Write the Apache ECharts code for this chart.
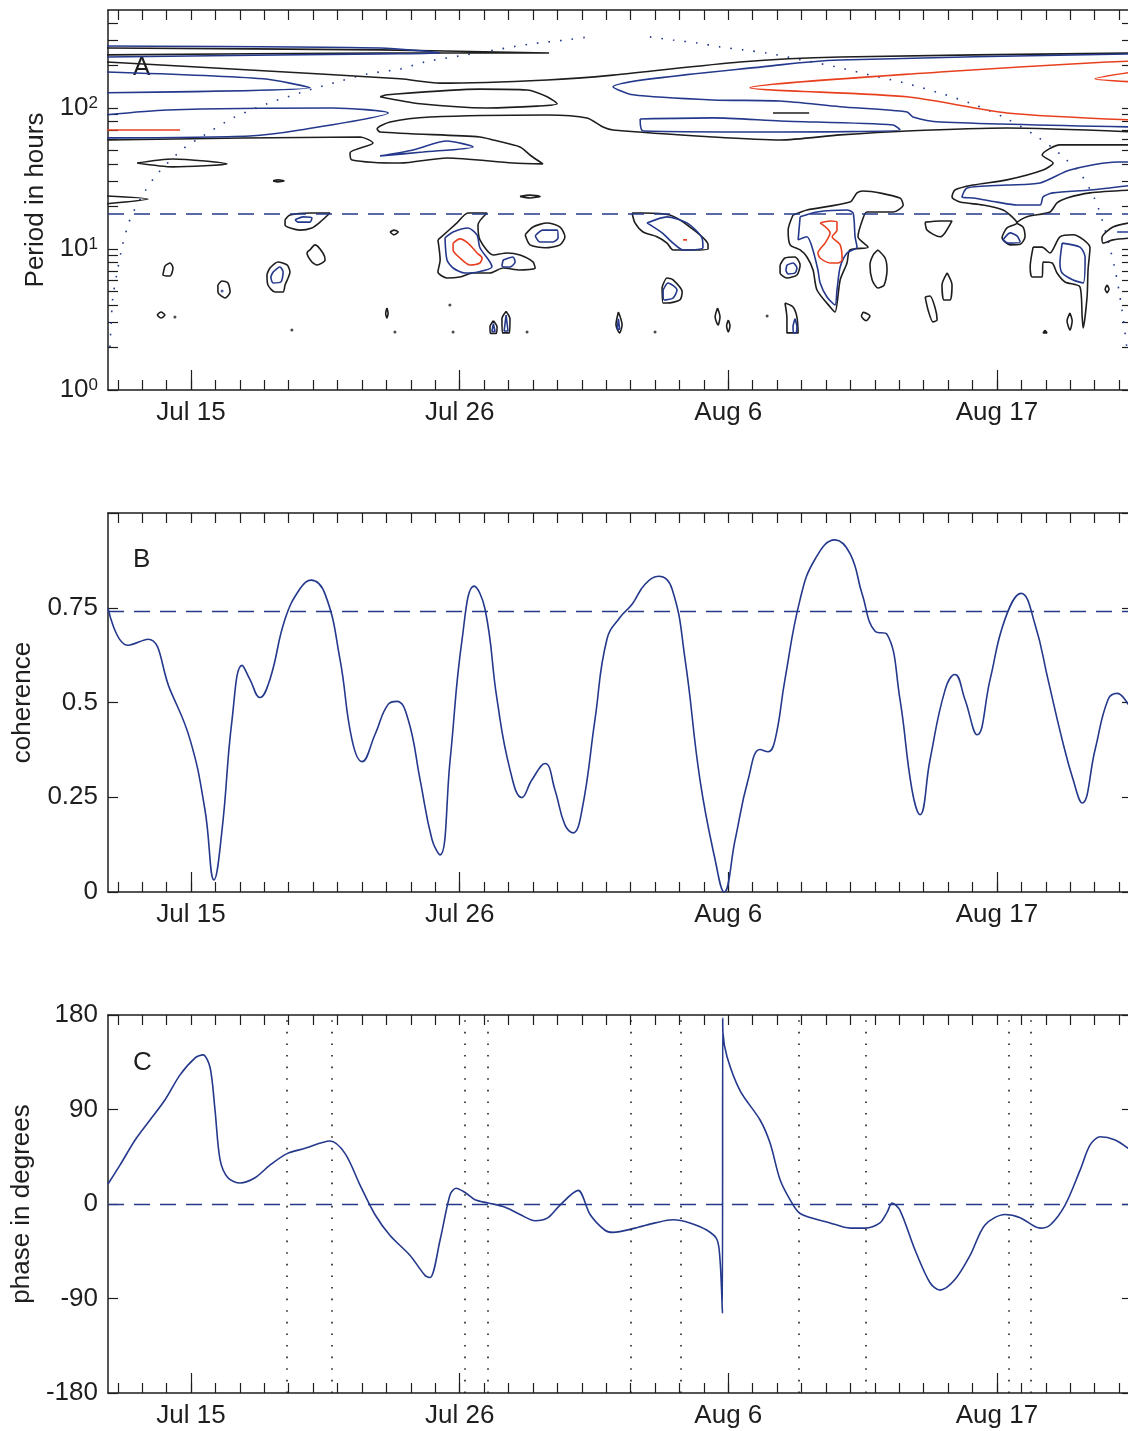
<!DOCTYPE html>
<html>
<head>
<meta charset="utf-8">
<script src="https://cdn.jsdelivr.net/npm/echarts@6/dist/echarts.min.js"></script>
<style>
html, body { margin: 0; padding: 0; background: #fff; }
#chart { width: 1128px; height: 1431px; }
</style>
</head>
<body>
<div id="chart"></div>
<script>
// days are counted from Jul 0 (Jul 15 = 15, Aug 6 = 37, Aug 17 = 48)
var dayMin = 11.6, dayMax = 53.53;
var dayTicks = [12,13,14,15,16,17,18,19,20,21,22,23,24,25,26,27,28,29,30,31,32,33,34,35,36,37,38,39,40,41,42,43,44,45,46,47,48,49,50,51,52,53];
var majorDays = [15, 26, 37, 48];
var majorLabels = ['Jul 15', 'Jul 26', 'Aug 6', 'Aug 17'];

var periodTicks = [1,2,3,4,5,6,7,8,9,10,20,30,40,50,60,70,80,90,100,200,300,400];
var periodLabels = [1, 10, 100];
var coherenceTicks = [0, 0.25, 0.5, 0.75, 1];
var coherenceLabels = [0, 0.25, 0.5, 0.75];
var phaseTicks = [-180, -90, 0, 90, 180];

var significancePeriod = 17.7;
var coherenceLevel = 0.74;
var phaseMarks = [18.93, 20.77, 26.21, 27.15, 33.0, 35.04, 39.87, 42.61, 48.5, 49.4];

// cone of influence [day, period in hours]
var coiLeft = [[11.68,2.02],[11.72,2.80],[11.80,4.57],[11.97,6.76],[12.17,10.2],[12.42,14.8],[12.62,18.0],[13.07,25.0],[13.65,34.6],[14.67,51.2],[15.49,63.3],[16.72,85.0],[18.11,107],[19.46,128],[20.81,150],[22.21,174],[23.56,189],[24.58,212],[26.01,234],[27.45,258],[28.88,284],[30.31,303],[31.26,319]];
var coiRight = [[33.79,319],[34.74,303],[35.72,289],[36.66,271],[37.60,258],[38.59,245],[40.02,219],[41.45,195],[42.80,171],[44.24,150],[45.63,128],[46.98,107],[48.33,85.0],[49.60,63.3],[50.38,50.4],[50.71,44.9],[51.40,34.6],[52.02,22.3],[52.43,13.6],[52.84,7.10],[53.12,3.69],[53.33,1.92]];

// coherence contours [day, period in hours]
var blackContours = [
    [[11.5,266],[22.74,258],[29.66,245],[22.74,245],[11.5,238]],
    [[11.5,212],[17.41,186],[23.56,161],[25.2,150],[29.58,158],[32.28,171],[37.48,212],[41.58,230],[53.6,245]],
    [[11.5,59.3],[21.92,62.3],[22.45,56.5],[21.51,48.0],[21.59,42.8],[23.56,40.7],[25.48,44.2],[28.18,40.7],[29.41,40.1],[28.88,46.4],[28.47,52.9],[27.37,59.3],[26.83,62.3],[22.74,67.6],[22.62,71.0],[23.15,79.6],[24.79,86.3],[29.58,89.2],[31.21,85.0],[31.87,73.3],[32.28,69.8],[36.37,62.3],[39.12,59.3],[41.58,64.4],[44.32,68.7],[48.41,72.1],[53.6,67.6]],
    [[22.74,120],[24.38,107],[27.12,100],[29.17,103],[29.99,107],[29.58,120],[28.76,134],[26.83,136],[23.03,124],[22.74,120]],
    [[12.79,40.7],[14.26,43.5],[16.47,40.1],[14.26,38.2],[12.79,40.7]],
    [[18.36,30.4],[18.56,30.9],[18.81,30.4],[18.56,29.9],[18.36,30.4]],
    [[11.5,23.8],[13.24,22.6],[11.5,20.9]],
    [[38.83,92.2],[40.31,92.2]],
    [[53.6,54.7],[50.58,54.7],[49.85,46.4],[50.30,40.7],[49.89,36.3],[48.41,30.9],[47.02,28.4],[46.28,26.2],[46.16,23.4],[46.49,21.5],[47.43,20.5],[48.25,18.9],[48.62,16.9],[48.82,15.3],[48.41,14.1],[48.21,12.0],[48.54,10.7],[48.95,10.8],[49.15,12.2],[49.07,14.3],[48.82,15.3],[49.23,16.9],[50.17,18.3],[50.46,21.2],[50.87,23.0],[51.81,25.0],[53.6,26.2]],
    [[53.6,15.5],[52.75,14.3],[52.30,12.0],[52.35,11.0],[52.75,11.6],[53.6,12.0]],
    [[39.65,17.4],[40.22,18.9],[41.98,21.5],[42.27,25.0],[42.52,25.8],[44.03,23.0],[44.16,20.5],[43.75,18.3],[42.68,18.3],[42.52,16.6],[42.31,12.2],[42.72,10.3],[41.98,9.84],[41.86,7.96],[41.58,6.03],[41.37,3.57],[41.17,3.88],[40.63,5.12],[40.47,7.10],[40.22,8.78],[39.94,9.84],[39.53,10.7],[39.45,13.6],[39.65,17.4]],
    [[39.12,7.70],[39.32,8.63],[39.73,8.78],[39.94,7.70],[39.81,6.54],[39.40,6.23],[39.12,6.76],[39.12,7.70]],
    [[39.32,4.14],[39.65,3.88],[39.81,3.29],[39.86,2.54],[39.40,2.54],[39.40,3.24],[39.32,4.14]],
    [[43.13,9.84],[43.42,8.63],[43.50,7.10],[43.38,5.55],[43.13,5.29],[42.89,6.03],[42.80,7.70],[42.93,9.06],[43.13,9.84]],
    [[45.06,15.5],[45.67,15.8],[46.16,15.8],[45.87,13.0],[45.67,12.2],[45.14,13.6],[45.06,15.5]],
    [[45.96,6.76],[46.16,5.55],[46.08,4.35],[45.83,4.35],[45.75,5.55],[45.96,6.76]],
    [[45.06,4.57],[45.26,4.64],[45.47,3.81],[45.55,3.14],[45.38,3.04],[45.18,3.69],[45.06,4.57]],
    [[42.52,3.57],[42.80,3.35],[42.64,3.10],[42.45,3.35],[42.52,3.57]],
    [[49.48,10.3],[49.85,10.3],[50.17,9.37],[50.58,12.2],[51.12,12.6],[51.81,10.2],[51.73,7.10],[51.69,4.57],[51.53,2.75],[51.49,3.29],[51.40,5.38],[50.79,5.83],[50.46,6.76],[50.26,7.96],[49.89,8.09],[49.85,6.33],[49.44,6.33],[49.36,7.45],[49.48,10.3]],
    [[50.99,3.52],[51.08,3.09],[50.99,2.66],[50.87,3.09],[50.99,3.52]],
    [[49.97,2.66],[50.05,2.54],[49.89,2.54],[49.97,2.66]],
    [[52.51,5.55],[52.59,5.2],[52.51,4.9],[52.43,5.2],[52.51,5.55]],
    [[28.47,23.6],[28.88,24.1],[29.29,23.6],[28.88,23.0],[28.47,23.6]],
    [[23.15,13.2],[23.31,13.6],[23.48,13.2],[23.31,12.6],[23.15,13.2]],
    [[25.11,11.6],[25.89,15.3],[26.34,18.0],[27.12,18.0],[26.75,14.8],[26.83,11.6],[27.37,9.06],[27.94,9.37],[28.47,9.06],[29.00,8.09],[29.09,7.33],[28.47,7.10],[27.78,7.33],[27.24,6.76],[26.55,6.76],[26.01,6.33],[25.48,6.23],[25.11,6.87],[25.20,8.36],[25.11,11.6]],
    [[28.68,12.6],[29.00,14.3],[29.58,15.3],[30.11,14.3],[30.31,12.2],[30.11,10.7],[29.50,10.2],[28.88,10.7],[28.68,12.6]],
    [[33.06,18.0],[33.51,18.0],[34.61,17.4],[35.43,14.3],[36.17,10.7],[36.17,10.0],[35.56,9.84],[34.74,9.84],[34.49,11.0],[34.08,12.2],[33.51,13.2],[33.18,15.3],[33.06,18.0]],
    [[34.29,5.38],[34.49,6.23],[34.74,6.03],[35.11,4.95],[35.02,4.35],[34.49,4.14],[34.33,4.14],[34.29,5.38]],
    [[27.38,3.10],[27.53,2.80],[27.50,2.52],[27.26,2.52],[27.24,2.80],[27.38,3.10]],
    [[27.9,3.60],[28.06,3.2],[28.04,2.54],[27.75,2.54],[27.73,3.2],[27.9,3.60]],
    [[32.5,3.57],[32.65,2.9],[32.55,2.54],[32.4,2.9],[32.5,3.57]],
    [[36.56,3.81],[36.66,3.3],[36.58,2.89],[36.46,3.3],[36.56,3.81]],
    [[37.0,3.14],[37.07,2.85],[37.0,2.58],[36.93,2.85],[37.0,3.14]],
    [[23.02,3.81],[23.07,3.5],[23.02,3.24],[22.97,3.5],[23.02,3.81]],
    [[18.85,16.1],[19.05,17.4],[19.87,18.0],[20.69,18.0],[20.28,15.5],[19.95,14.1],[19.46,13.6],[18.85,14.8],[18.85,16.1]],
    [[19.87,9.84],[20.08,10.7],[20.40,9.37],[20.49,8.36],[20.16,7.70],[19.95,8.09],[19.75,9.37],[19.87,9.84]],
    [[18.23,7.33],[18.56,8.09],[18.93,7.70],[19.05,6.87],[18.85,5.55],[18.77,4.95],[18.44,4.95],[18.15,5.55],[18.11,6.54],[18.23,7.33]],
    [[16.10,5.55],[16.27,5.93],[16.51,5.74],[16.60,4.95],[16.39,4.49],[16.10,4.95],[16.10,5.55]],
    [[13.93,7.58],[14.14,7.96],[14.26,7.33],[14.14,6.44],[13.85,6.54],[13.93,7.58]],
    [[13.61,3.40],[13.77,3.57],[13.93,3.40],[13.77,3.24],[13.61,3.40]]
];
var blueContours = [
    [[11.5,275],[22.74,266],[25.2,245],[22.74,242],[11.5,230]],
    [[11.5,180],[17.95,161],[19.87,139],[11.5,128]],
    [[11.5,89.2],[14.02,96.8],[20.81,100],[23.07,92.2],[19.46,69.8],[17.41,63.3],[11.5,61.3]],
    [[22.74,45.7],[24.09,50.4],[25.48,58.3],[26.55,52.9],[24.5,48.7],[22.74,45.7]],
    [[53.6,242],[41.58,219],[39.12,202],[32.28,141],[33.10,124],[36.37,114],[39.12,112],[41.58,102],[44.32,93.7],[44.56,86.3],[45.67,79.6],[53.6,73.3]],
    [[33.39,83.6],[36.37,85.0],[39.12,80.9],[43.75,75.8],[44.03,69.8],[39.12,67.6],[33.51,68.7],[33.39,83.6]],
    [[53.6,41.4],[52.92,41.4],[50.99,36.3],[49.77,29.4],[48.41,28.4],[46.78,27.1],[46.57,23.4],[47.02,23.0],[48.00,21.5],[48.82,20.5],[49.77,20.5],[49.89,23.4],[50.30,25.0],[51.81,26.2],[53.6,28.4]],
    [[48.25,11.6],[48.54,13.0],[48.82,12.4],[48.95,11.2],[48.46,11.0],[48.25,11.6]],
    [[52.92,13.2],[53.6,13.2]],
    [[39.94,16.9],[40.63,18.3],[41.86,18.9],[42.11,18.0],[42.19,12.2],[42.27,10.3],[41.86,9.37],[41.58,7.45],[41.45,5.12],[41.37,4.01],[41.04,4.57],[40.76,5.74],[40.67,7.10],[40.43,10.3],[40.22,12.2],[39.86,11.6],[39.94,16.9]],
    [[39.40,7.70],[39.65,7.96],[39.81,7.33],[39.73,6.76],[39.45,6.65],[39.36,7.10],[39.40,7.70]],
    [[39.73,3.2],[39.81,2.8],[39.77,2.54],[39.67,2.54],[39.65,2.8],[39.73,3.2]],
    [[50.67,11.0],[51.40,10.3],[51.61,8.78],[51.53,5.74],[51.12,6.03],[50.67,6.76],[50.58,7.96],[50.67,11.0]],
    [[25.40,12.0],[25.73,13.2],[26.34,14.1],[26.71,12.6],[26.83,10.2],[27.24,8.09],[27.32,7.45],[26.75,6.87],[26.22,6.76],[25.73,7.33],[25.48,8.36],[25.40,12.0]],
    [[27.78,8.36],[28.18,8.78],[28.27,8.09],[28.06,7.45],[27.73,7.58],[27.78,8.36]],
    [[29.09,12.4],[29.41,13.6],[29.99,13.6],[30.03,12.0],[29.82,11.2],[29.29,11.2],[29.09,12.4]],
    [[33.67,15.3],[34.49,16.9],[35.31,15.3],[35.92,12.0],[35.96,10.2],[35.15,9.84],[34.74,11.0],[34.29,13.0],[33.67,15.3]],
    [[34.33,5.12],[34.53,5.74],[34.90,5.12],[34.74,4.49],[34.37,4.35],[34.33,5.12]],
    [[27.38,2.95],[27.45,2.6],[27.32,2.6],[27.38,2.95]],
    [[27.9,3.40],[27.98,2.62],[27.82,2.62],[27.9,3.40]],
    [[32.5,3.2],[32.55,2.7],[32.45,2.7],[32.5,3.2]],
    [[19.26,16.1],[19.59,16.9],[19.95,16.6],[19.87,15.5],[19.38,15.5],[19.26,16.1]],
    [[18.36,6.87],[18.64,7.45],[18.77,6.87],[18.68,5.83],[18.36,5.74],[18.27,6.33],[18.36,6.87]]
];
var redContours = [
    [[11.5,69.8],[14.55,69.8]],
    [[53.6,215],[52.51,212],[45.67,180],[37.89,139],[44.32,120],[48.41,92.2],[53.6,82.2]],
    [[53.6,180],[52.02,161],[53.6,153]],
    [[40.76,15.3],[41.17,15.8],[41.45,15.5],[41.45,13.6],[41.25,12.2],[41.58,10.7],[41.66,8.36],[41.49,7.96],[41.17,7.96],[40.76,8.63],[40.67,9.37],[40.96,11.0],[41.17,13.0],[40.76,15.3]],
    [[25.73,11.0],[26.01,11.8],[26.34,11.0],[26.71,9.37],[26.92,8.63],[26.83,7.96],[26.42,7.70],[26.01,8.63],[25.73,9.84],[25.73,11.0]],
    [[35.15,11.6],[35.31,11.6]]
];
var blackSpecks = [[25.6,4.01],[25.73,2.58],[23.35,2.58],[28.76,2.58],[34.0,2.58],[38.59,3.35],[19.13,2.66],[14.34,3.29]];
var blueSpecks = [[16.27,5.03]];

// coherence [day, value]
var coherence = [[11.60,0.749],[12.42,0.651],[13.24,0.667],[14.14,0.534],[14.96,0.402],[15.57,0.217],[15.94,0.032],[16.27,0.164],[16.68,0.455],[17.09,0.598],[17.41,0.561],[17.82,0.513],[18.23,0.561],[18.85,0.720],[19.46,0.800],[19.91,0.823],[20.49,0.786],[21.10,0.614],[21.59,0.402],[22.00,0.344],[22.53,0.415],[23.07,0.495],[23.43,0.503],[23.89,0.455],[24.38,0.296],[24.87,0.138],[25.20,0.098],[25.61,0.349],[26.10,0.667],[26.59,0.807],[27.04,0.746],[27.53,0.508],[28.06,0.323],[28.55,0.249],[28.96,0.296],[29.50,0.339],[29.90,0.270],[30.31,0.177],[30.64,0.156],[31.01,0.217],[31.54,0.455],[32.03,0.667],[32.57,0.725],[33.06,0.759],[33.59,0.812],[34.16,0.833],[34.70,0.799],[35.23,0.614],[35.84,0.296],[36.46,0.085],[36.83,0.000],[37.28,0.138],[37.81,0.296],[38.30,0.376],[38.63,0.370],[38.91,0.400],[39.32,0.561],[39.94,0.772],[40.55,0.878],[41.37,0.929],[41.99,0.892],[42.48,0.786],[43.01,0.688],[43.50,0.680],[44.03,0.508],[44.52,0.270],[44.85,0.204],[45.26,0.349],[45.88,0.534],[46.28,0.574],[46.69,0.508],[47.19,0.415],[47.72,0.561],[48.33,0.720],[48.99,0.788],[49.56,0.706],[50.09,0.561],[50.67,0.402],[51.12,0.296],[51.49,0.235],[52.02,0.376],[52.55,0.508],[52.92,0.524],[53.37,0.495]];

// phase [day, degrees]
var phase = [[11.60,19],[12.09,37],[12.71,61],[13.32,80],[13.93,99],[14.55,123],[15.16,139],[15.49,142],[15.78,130],[15.98,90],[16.19,42],[16.51,25],[17.01,20],[17.62,25],[18.23,37],[18.93,48],[19.67,53],[20.69,60],[21.31,48],[21.92,18],[22.53,-10],[23.15,-30],[23.97,-49],[24.58,-68],[24.79,-70],[25.20,-34],[25.61,9],[25.85,15],[26.22,11],[26.63,4],[27.16,1],[27.86,-3],[28.47,-10],[29.09,-16],[29.62,-13],[30.11,-1],[30.85,13],[31.34,-10],[31.95,-25],[32.28,-27],[33.18,-23],[34.00,-18],[34.74,-15],[35.43,-18],[36.13,-25],[36.54,-34],[36.66,-53],[36.72,-80],[36.76,-104],[36.77,177],[36.78,163],[36.95,140],[37.48,108],[38.30,80],[38.71,58],[39.12,23],[39.53,4],[39.94,-9],[41.17,-18],[41.99,-23],[42.60,-23],[43.21,-18],[43.50,-8],[43.71,1],[44.03,-6],[44.65,-44],[45.26,-75],[45.67,-82],[46.28,-72],[46.90,-49],[47.51,-20],[48.33,-10],[48.95,-13],[49.77,-23],[50.18,-20],[50.79,-1],[51.40,32],[51.81,56],[52.22,64],[52.84,61],[53.37,53]];

var FONT = 'Liberation Sans, Arial, Helvetica, sans-serif';
var INK = '#1e1e1e';
var BLUE = '#24388c';
var RED = '#e8401f';

var chart = echarts.init(document.getElementById('chart'), null, {renderer: 'canvas'});

var grids = [
    {left: 108, top: 10, width: 1024, height: 380, outerBoundsMode: 'none'},
    {left: 108, top: 513, width: 1024, height: 379, outerBoundsMode: 'none'},
    {left: 108, top: 1015, width: 1024, height: 378, outerBoundsMode: 'none'}
];

function xAxesFor(g) {
    return [
        {
            gridIndex: g, type: 'value', min: dayMin, max: dayMax, position: 'bottom',
            axisLine: {show: true, onZero: false, lineStyle: {color: INK, width: 1.5}},
            axisTick: {show: true, inside: true, length: 10, customValues: dayTicks, lineStyle: {color: INK, width: 1.2}},
            axisLabel: {
                show: true, customValues: majorDays, margin: 10, fontSize: 26, color: INK, fontFamily: FONT,
                formatter: function (v) { return majorLabels[majorDays.indexOf(Math.round(v))]; }
            },
            splitLine: {show: false}
        },
        {
            gridIndex: g, type: 'value', min: dayMin, max: dayMax, position: 'bottom',
            axisLine: {show: false, onZero: false},
            axisTick: {show: true, inside: true, length: 20, customValues: majorDays, lineStyle: {color: INK, width: 1.2}},
            axisLabel: {show: false},
            splitLine: {show: false}
        },
        {
            gridIndex: g, type: 'value', min: dayMin, max: dayMax, position: 'top',
            axisLine: {show: true, onZero: false, lineStyle: {color: INK, width: 1.5}},
            axisTick: {show: true, inside: true, length: 10, customValues: dayTicks, lineStyle: {color: INK, width: 1.2}},
            axisLabel: {show: false},
            splitLine: {show: false}
        }
    ];
}

function yPair(g, base, labelOpt, name, gap) {
    var left = Object.assign({}, base, {
        gridIndex: g, position: 'left',
        name: name, nameLocation: 'middle', nameGap: gap, nameRotate: 90,
        nameTextStyle: {fontSize: 26, color: INK, fontFamily: FONT},
        axisLine: {show: true, onZero: false, lineStyle: {color: INK, width: 1.5}},
        axisLabel: labelOpt,
        splitLine: {show: false}
    });
    var right = Object.assign({}, base, {
        gridIndex: g, position: 'right',
        axisLine: {show: true, onZero: false, lineStyle: {color: INK, width: 1.5}},
        axisLabel: {show: false},
        splitLine: {show: false}
    });
    return [left, right];
}

var tickStyle = {color: INK, width: 1.2};

var yAxes = []
    .concat(yPair(0, {
        type: 'log', logBase: 10, min: 1, max: 495,
        axisTick: {show: true, inside: true, length: 10, customValues: periodTicks, lineStyle: tickStyle}
    }, {
        show: true, customValues: periodLabels, margin: 10, color: INK, fontFamily: FONT,
        formatter: function (v) { return '{b|10}{s|' + Math.round(Math.log10(v)) + '}'; },
        rich: {
            b: {fontSize: 26, color: INK, fontFamily: FONT},
            s: {fontSize: 17, color: INK, fontFamily: FONT, verticalAlign: 'top'}
        }
    }, 'Period in hours', 56))
    .concat(yPair(1, {
        type: 'value', min: 0, max: 1,
        axisTick: {show: true, inside: true, length: 10, customValues: coherenceTicks, lineStyle: tickStyle}
    }, {
        show: true, customValues: coherenceLabels, margin: 10, fontSize: 26, color: INK, fontFamily: FONT,
        formatter: function (v) { return String(v); }
    }, 'coherence', 72))
    .concat(yPair(2, {
        type: 'value', min: -180, max: 180,
        axisTick: {show: true, inside: true, length: 10, customValues: phaseTicks, lineStyle: tickStyle}
    }, {
        show: true, customValues: phaseTicks, margin: 10, fontSize: 26, color: INK, fontFamily: FONT,
        formatter: function (v) { return String(v); }
    }, 'phase in degrees', 70));

function contourSeries(list, color) {
    return list.map(function (pts) {
        return {
            type: 'line', xAxisIndex: 0, yAxisIndex: 0, data: pts,
            symbol: 'none', smooth: 0.25, silent: true, z: 3,
            lineStyle: {color: color, width: 1.6}
        };
    });
}

var dots = [1.6, 10];
var dashes = [16, 10];

var series = []
    .concat(contourSeries(blackContours, INK))
    .concat(contourSeries(blueContours, BLUE))
    .concat(contourSeries(redContours, RED))
    .concat([
        {
            type: 'scatter', xAxisIndex: 0, yAxisIndex: 0, data: blackSpecks,
            symbol: 'circle', symbolSize: 3, itemStyle: {color: INK}, silent: true, z: 3
        },
        {
            type: 'scatter', xAxisIndex: 0, yAxisIndex: 0, data: blueSpecks,
            symbol: 'circle', symbolSize: 3, itemStyle: {color: BLUE}, silent: true, z: 3
        },
        {
            type: 'line', xAxisIndex: 0, yAxisIndex: 0, data: coiLeft,
            symbol: 'none', smooth: 0.3, silent: true, z: 2,
            lineStyle: {color: BLUE, width: 1.6, type: dots},
            markLine: {
                silent: true, symbol: 'none', label: {show: false},
                lineStyle: {color: BLUE, width: 1.5, type: dashes},
                data: [{yAxis: significancePeriod}]
            }
        },
        {
            type: 'line', xAxisIndex: 0, yAxisIndex: 0, data: coiRight,
            symbol: 'none', smooth: 0.3, silent: true, z: 2,
            lineStyle: {color: BLUE, width: 1.6, type: dots}
        },
        {
            type: 'line', xAxisIndex: 3, yAxisIndex: 2, data: coherence,
            symbol: 'none', smooth: 0.45, silent: true, z: 3,
            lineStyle: {color: BLUE, width: 1.6},
            markLine: {
                silent: true, symbol: 'none', label: {show: false},
                lineStyle: {color: BLUE, width: 1.4, type: dashes},
                data: [{yAxis: coherenceLevel}]
            }
        },
        {
            type: 'line', xAxisIndex: 6, yAxisIndex: 4, data: phase,
            symbol: 'none', smooth: 0.3, silent: true, z: 3,
            lineStyle: {color: BLUE, width: 1.6},
            markLine: {
                silent: true, symbol: 'none', label: {show: false},
                data: [{yAxis: 0, lineStyle: {color: BLUE, width: 1.4, type: dashes}}].concat(
                    phaseMarks.map(function (d) {
                        return {xAxis: d, lineStyle: {color: INK, width: 1.6, type: dots}};
                    })
                )
            }
        }
    ]);

var option = {
    animation: false,
    backgroundColor: '#ffffff',
    grid: grids,
    xAxis: xAxesFor(0).concat(xAxesFor(1)).concat(xAxesFor(2)),
    yAxis: yAxes,
    graphic: [
        {type: 'text', left: 133, top: 55, style: {text: 'A', fontSize: 26, fill: INK, fontFamily: FONT}},
        {type: 'text', left: 133, top: 547, style: {text: 'B', fontSize: 26, fill: INK, fontFamily: FONT}},
        {type: 'text', left: 133, top: 1050, style: {text: 'C', fontSize: 26, fill: INK, fontFamily: FONT}}
    ],
    series: series
};

chart.setOption(option);
window.addEventListener('resize', chart.resize);
</script>
</body>
</html>
